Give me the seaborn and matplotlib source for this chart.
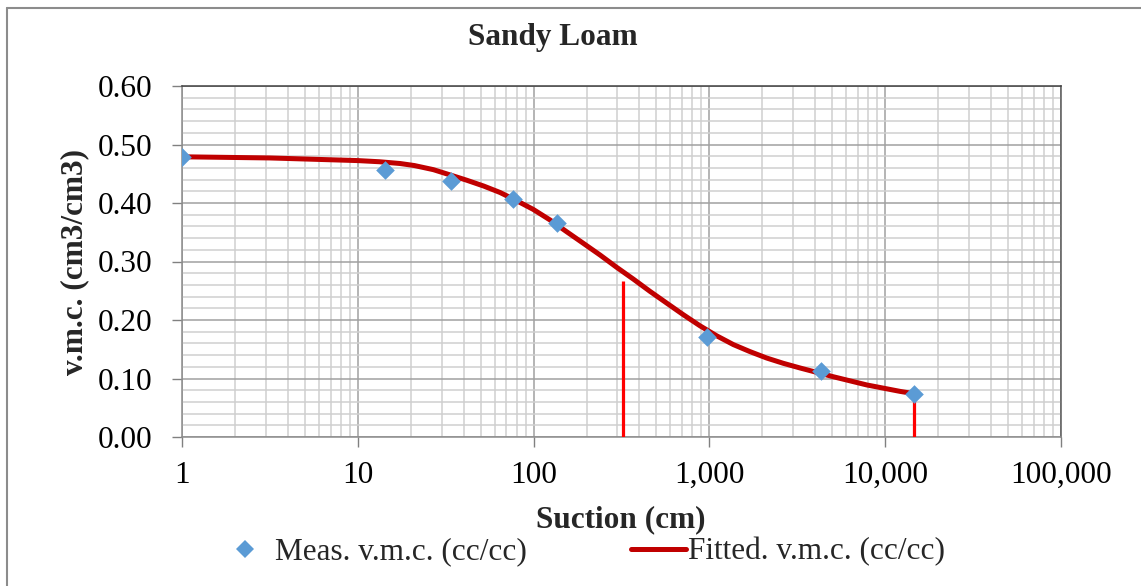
import matplotlib
matplotlib.use("Agg")
import matplotlib.pyplot as plt
from matplotlib.ticker import FixedLocator, MultipleLocator, FuncFormatter, LogLocator, NullFormatter
from matplotlib.lines import Line2D
import pandas as pd
import seaborn as sns

# Measured volumetric moisture content vs suction
suction_meas = [1, 14.3, 34, 76, 135, 975, 4300, 14600]
vmc_meas = [0.479, 0.456, 0.438, 0.406, 0.366, 0.171, 0.113, 0.074]

# Fitted retention curve
suction_fit = [1, 3.16, 10, 13.3, 17.4, 21, 26.9, 33.5, 41.6, 52, 64.4, 80,
               99.6, 124, 154, 192, 239, 297, 369, 459, 571, 711, 885, 1100,
               1368, 1700, 2118, 2630, 3277, 5070, 7850, 12140, 14600]
vmc_fit = [0.479, 0.477, 0.4725, 0.4705, 0.4675, 0.464, 0.457, 0.448, 0.439, 0.429,
           0.418, 0.404, 0.389, 0.371, 0.351, 0.331, 0.311, 0.290, 0.270, 0.249,
           0.229, 0.209, 0.190, 0.173, 0.158, 0.146, 0.135, 0.126, 0.118, 0.103,
           0.089, 0.078, 0.074]

# Reference drop lines
ref_suction = [321, 14600]
ref_vmc = [0.267, 0.074]

x_ticks = [1, 10, 100, 1000, 10000, 100000]
y_ticks = [0.0, 0.1, 0.2, 0.3, 0.4, 0.5, 0.6]

meas_label = "Meas. v.m.c. (cc/cc)"
fit_label = "Fitted. v.m.c. (cc/cc)"

sns.set_theme(style="white")
plt.rcParams["font.family"] = ["Liberation Serif", "DejaVu Serif"]

FS = 22.5
BLUE = "#5B9BD5"
DARKRED = "#C00000"
RED = "#FF0000"

fig = plt.figure(figsize=(11.41, 5.86), dpi=100)
W, H = 1141, 586
ax = fig.add_axes([182 / W, 1 - 437 / H, (1061 - 182) / W, (437 - 86) / H])

meas_df = pd.DataFrame({"suction": suction_meas, "vmc": vmc_meas})
fit_df = pd.DataFrame({"suction": suction_fit, "vmc": vmc_fit})

sns.lineplot(data=fit_df, x="suction", y="vmc", ax=ax, color=DARKRED,
             linewidth=3.6, sort=False, estimator=None, zorder=4)
sns.scatterplot(data=meas_df, x="suction", y="vmc", ax=ax, color=BLUE,
                marker="D", s=90, linewidth=0, zorder=5)
ax.vlines(ref_suction, 0, ref_vmc, colors=RED, linewidth=2.3, zorder=3)

ax.set_xscale("log")
ax.set_xlim(x_ticks[0], x_ticks[-1])
ax.set_ylim(y_ticks[0], y_ticks[-1])

ax.xaxis.set_major_locator(FixedLocator(x_ticks))
ax.xaxis.set_major_formatter(FuncFormatter(lambda v, p: f"{v:,.0f}"))
ax.xaxis.set_minor_locator(LogLocator(base=10, subs=range(2, 10), numticks=50))
ax.xaxis.set_minor_formatter(NullFormatter())
ax.yaxis.set_major_locator(FixedLocator(y_ticks))
ax.yaxis.set_major_formatter(FuncFormatter(lambda v, p: f"{v:.2f}"))
ax.yaxis.set_minor_locator(MultipleLocator(0.02))

ax.grid(which="major", color="#A0A0A0", linewidth=1.1, zorder=0)
ax.grid(which="minor", color="#CFCFCF", linewidth=1.1, zorder=0)
ax.set_axisbelow(True)

ax.tick_params(axis="both", which="major", labelsize=FS, colors="#808080",
               labelcolor="black", length=7, width=1, direction="out")
ax.tick_params(axis="y", which="major", pad=14, left=True)
ax.tick_params(axis="x", which="major", pad=10, bottom=True)
ax.tick_params(which="minor", length=0)

for side, col in [("left", "#8C8C8C"), ("bottom", "#8C8C8C"),
                  ("top", "#404040"), ("right", "#595959")]:
    ax.spines[side].set_visible(True)
    ax.spines[side].set_color(col)
    ax.spines[side].set_linewidth(1.1)

ax.set_xlabel("")
ax.set_ylabel("")

fig.text(552.5 / W, 1 - 38 / H, "Sandy Loam", ha="center", va="center",
         fontsize=FS, fontweight="bold")
fig.text(621 / W, 1 - 520 / H, "Suction (cm)", ha="center", va="center",
         fontsize=FS, fontweight="bold")
fig.text(75 / W, 1 - 262 / H, "v.m.c. (cm3/cm3)", ha="center", va="center",
         rotation=90, fontsize=FS, fontweight="bold")

handles = [
    Line2D([], [], linestyle="none", marker="D", markersize=9,
           markerfacecolor=BLUE, markeredgewidth=0),
    Line2D([], [], color=DARKRED, linewidth=3.6),
]
fig.legend(handles, [meas_label, fit_label], ncol=2, loc="center left",
           bbox_to_anchor=(218 / W, 1 - 552 / H), frameon=False,
           fontsize=FS, handlelength=1.75, handletextpad=0.08,
           columnspacing=3.33, borderpad=0, borderaxespad=0)

# Outer chart frame
fig.add_artist(Line2D([7 / W, 7 / W], [0, 1 - 8 / H], transform=fig.transFigure,
                      color="#8C8C8C", linewidth=1.5))
fig.add_artist(Line2D([7 / W, 1], [1 - 8 / H, 1 - 8 / H], transform=fig.transFigure,
                      color="#8C8C8C", linewidth=1.5))

fig.savefig("out.png", dpi=100)
